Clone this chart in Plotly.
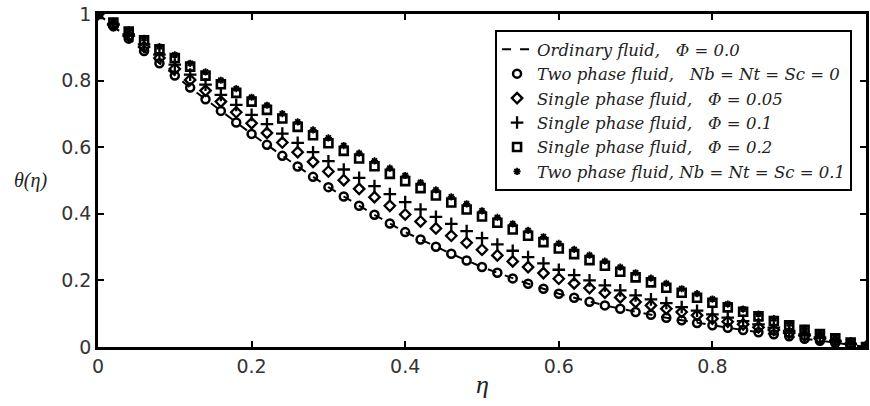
import plotly.graph_objects as go

eta = [round(i * 0.02, 2) for i in range(51)]

theta_phi0 = [1.000, 0.963, 0.926, 0.889, 0.852, 0.815, 0.779, 0.744, 0.709, 0.674,
              0.640, 0.607, 0.574, 0.542, 0.511, 0.480, 0.452, 0.424, 0.397, 0.371,
              0.345, 0.323, 0.301, 0.280, 0.260, 0.240, 0.223, 0.206, 0.190, 0.175,
              0.160, 0.148, 0.136, 0.125, 0.115, 0.105, 0.097, 0.088, 0.080, 0.072,
              0.065, 0.058, 0.051, 0.044, 0.038, 0.032, 0.025, 0.019, 0.012, 0.006, 0.000]

theta_two_phase_0 = [1.000, 0.963, 0.926, 0.889, 0.852, 0.815, 0.779, 0.744, 0.709, 0.674,
                     0.640, 0.607, 0.574, 0.542, 0.511, 0.480, 0.452, 0.424, 0.397, 0.371,
                     0.345, 0.323, 0.301, 0.280, 0.260, 0.240, 0.223, 0.206, 0.190, 0.175,
                     0.160, 0.148, 0.136, 0.125, 0.115, 0.105, 0.097, 0.088, 0.080, 0.072,
                     0.065, 0.058, 0.051, 0.044, 0.038, 0.032, 0.025, 0.019, 0.012, 0.006, 0.000]

theta_phi005 = [1.000, 0.967, 0.934, 0.901, 0.868, 0.835, 0.802, 0.770, 0.737, 0.705,
                0.672, 0.643, 0.614, 0.585, 0.556, 0.527, 0.501, 0.475, 0.450, 0.424,
                0.398, 0.377, 0.356, 0.334, 0.313, 0.292, 0.275, 0.257, 0.240, 0.222,
                0.205, 0.191, 0.177, 0.163, 0.149, 0.135, 0.125, 0.115, 0.105, 0.095,
                0.085, 0.076, 0.068, 0.059, 0.051, 0.042, 0.034, 0.025, 0.017, 0.008, 0.000]

theta_phi01 = [1.000, 0.970, 0.939, 0.909, 0.878, 0.848, 0.818, 0.788, 0.757, 0.727,
               0.697, 0.669, 0.641, 0.613, 0.585, 0.558, 0.533, 0.508, 0.483, 0.459,
               0.435, 0.413, 0.391, 0.370, 0.348, 0.327, 0.308, 0.289, 0.270, 0.251,
               0.232, 0.216, 0.200, 0.185, 0.170, 0.155, 0.143, 0.132, 0.120, 0.109,
               0.098, 0.088, 0.078, 0.068, 0.058, 0.048, 0.038, 0.029, 0.019, 0.010, 0.000]

theta_phi02 = [1.000, 0.974, 0.947, 0.921, 0.894, 0.868, 0.842, 0.815, 0.789, 0.763,
               0.737, 0.712, 0.686, 0.661, 0.636, 0.612, 0.589, 0.566, 0.543, 0.520,
               0.498, 0.477, 0.455, 0.434, 0.413, 0.392, 0.373, 0.353, 0.334, 0.315,
               0.296, 0.279, 0.261, 0.244, 0.226, 0.209, 0.194, 0.178, 0.163, 0.148,
               0.133, 0.119, 0.106, 0.092, 0.078, 0.065, 0.052, 0.039, 0.026, 0.013, 0.000]

theta_two_phase_01 = [1.000, 0.977, 0.952, 0.927, 0.902, 0.877, 0.852, 0.826, 0.801, 0.776,
                      0.750, 0.726, 0.701, 0.676, 0.652, 0.628, 0.605, 0.582, 0.559, 0.537,
                      0.515, 0.494, 0.472, 0.451, 0.430, 0.409, 0.389, 0.370, 0.350, 0.331,
                      0.311, 0.293, 0.276, 0.258, 0.240, 0.223, 0.207, 0.191, 0.175, 0.160,
                      0.144, 0.129, 0.114, 0.099, 0.085, 0.070, 0.056, 0.042, 0.028, 0.014, 0.000]

tick_vals = [0, 0.2, 0.4, 0.6, 0.8, 1]
tick_text = ["0", "0.2", "0.4", "0.6", "0.8", "1"]

NB = "\u00a0"
names = [
    f"Ordinary fluid,{NB}{NB} Φ = 0.0",
    f"Two phase fluid,{NB}{NB} Nb = Nt = Sc = 0",
    f"Single phase fluid,{NB}{NB} Φ = 0.05",
    f"Single phase fluid,{NB}{NB} Φ = 0.1",
    f"Single phase fluid,{NB}{NB} Φ = 0.2",
    "Two phase fluid, Nb = Nt = Sc = 0.1",
]

fig = go.Figure()
fig.add_trace(go.Scatter(x=eta, y=theta_phi0, mode="lines", name=names[0],
                         line=dict(color="black", width=2, dash="dash")))
fig.add_trace(go.Scatter(x=eta, y=theta_two_phase_0, mode="markers", name=names[1],
                         marker=dict(symbol="circle-open", size=8, color="black",
                                     line=dict(width=2.5, color="black"))))
fig.add_trace(go.Scatter(x=eta, y=theta_phi005, mode="markers", name=names[2],
                         marker=dict(symbol="diamond-open", size=8, color="black",
                                     line=dict(width=2.3, color="black"))))
fig.add_trace(go.Scatter(x=eta, y=theta_phi01, mode="markers", name=names[3],
                         marker=dict(symbol="cross-thin-open", size=9, color="black",
                                     line=dict(width=2.3, color="black"))))
fig.add_trace(go.Scatter(x=eta, y=theta_phi02, mode="markers", name=names[4],
                         marker=dict(symbol="square-open", size=8, color="black",
                                     line=dict(width=2.6, color="black"))))
fig.add_trace(go.Scatter(x=eta, y=theta_two_phase_01, mode="markers", name=names[5],
                         marker=dict(symbol="asterisk-open", size=6, color="black",
                                     line=dict(width=1.8, color="black"))))

axis_common = dict(
    showline=True, linecolor="black", linewidth=2.5, mirror="allticks",
    ticks="inside", ticklen=6, tickwidth=1.5, tickcolor="black",
    showgrid=False, zeroline=False, automargin=False,
    tickfont=dict(family="DejaVu Sans", size=19, color="#333"),
    tickvals=tick_vals, ticktext=tick_text,
)

fig.update_xaxes(range=[0, 1], **axis_common)
fig.update_yaxes(range=[0, 1], **axis_common)

fig.update_layout(
    width=870, height=406,
    margin=dict(l=98, r=4, t=14, b=59),
    plot_bgcolor="white", paper_bgcolor="white",
    showlegend=True,
    legend=dict(
        x=0.517, y=0.952, xanchor="left", yanchor="top",
        bgcolor="white", bordercolor="black", borderwidth=2,
        font=dict(family="DejaVu Serif", size=16.5, color="#222", style="italic"),
        tracegroupgap=0, itemwidth=30,
    ),
    annotations=[
        dict(text="<i>θ(η)</i>", xref="paper", yref="paper", x=-0.088, y=0.5,
             xanchor="center", yanchor="middle", showarrow=False,
             font=dict(family="Liberation Serif", size=20, color="#222")),
        dict(text="<i>η</i>", xref="paper", yref="paper", x=0.5, y=-0.114,
             xanchor="center", yanchor="middle", showarrow=False,
             font=dict(family="Liberation Serif", size=26, color="#222")),
    ],
)

fig.write_html("out.html",
               config={"displayModeBar": False},
               post_script="document.body.style.margin='0';document.body.style.overflow='hidden';")
